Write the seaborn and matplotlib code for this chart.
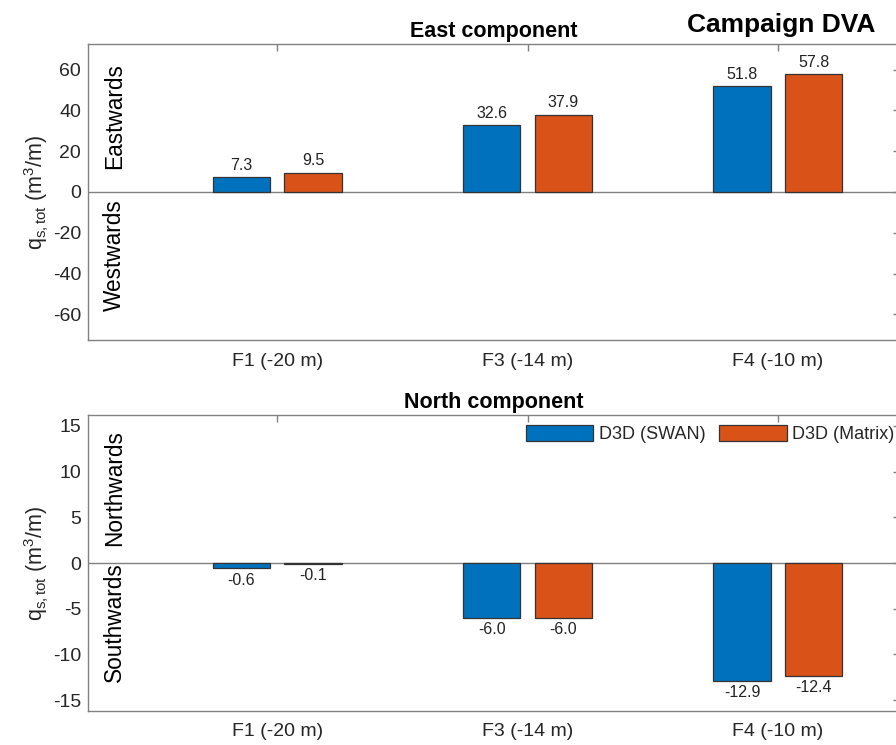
import matplotlib
matplotlib.use("Agg")
import matplotlib.pyplot as plt
import matplotlib.transforms as mtransforms
import seaborn as sns
import pandas as pd

# ---- data ----
categories = ["F1 (-20 m)", "F3 (-14 m)", "F4 (-10 m)"]
series = ["D3D (SWAN)", "D3D (Matrix)"]
east_swan = [7.3, 32.6, 51.8]
east_matrix = [9.5, 37.9, 57.8]
north_swan = [-0.6, -6.0, -12.9]
north_matrix = [-0.1, -6.0, -12.4]
east_yticks = [-60, -40, -20, 0, 20, 40, 60]
north_yticks = [-15, -10, -5, 0, 5, 10, 15]
colors = ["#0072BD", "#D95319"]

sns.set_theme(style="white")
plt.rcParams["font.family"] = ["Liberation Sans", "DejaVu Sans"]
plt.rcParams["mathtext.fontset"] = "custom"
plt.rcParams["mathtext.rm"] = "Liberation Sans"
plt.rcParams["mathtext.it"] = "Liberation Sans"
plt.rcParams["axes.unicode_minus"] = False

def make_df(a, b):
    rows = []
    for c, v in zip(categories, a):
        rows.append({"cat": c, "series": series[0], "val": v})
    for c, v in zip(categories, b):
        rows.append({"cat": c, "series": series[1], "val": v})
    return pd.DataFrame(rows)

fig = plt.figure(figsize=(8.96, 7.45), dpi=100)
W, H = 896, 745
ax1 = fig.add_axes([88 / W, (H - 340) / H, 812 / W, 296 / H])
ax2 = fig.add_axes([88 / W, (H - 711) / H, 812 / W, 296 / H])

SPINE = "#808080"
TXT = "#262626"

def draw(ax, df, ylim, yticks, title, up, down, up_y, down_y, legend):
    sns.barplot(data=df, x="cat", y="val", hue="series", order=categories,
                hue_order=series, palette=colors, width=0.573, gap=0.2,
                edgecolor="#333333", linewidth=0.9, saturation=1,
                legend=legend, ax=ax, errorbar=None)
    ax.axhline(0, color=SPINE, lw=1.0, zorder=0.5)
    for cont in ax.containers:
        ax.bar_label(cont, fmt="%.1f", padding=3, fontsize=11.5, color="#222222")
    ax.set_xlim(-0.756, 2.488)
    ax.set_ylim(*ylim)
    ax.set_yticks(yticks)
    ax.set_xlabel("")
    ax.set_ylabel(r"$\mathrm{q_{s,tot}}$ (m$^{\mathrm{3}}$/m)", fontsize=15.5,
                  color=TXT, labelpad=1)
    ax.set_title(title, fontsize=15.5, fontweight="bold", pad=5, color="black")
    for s in ax.spines.values():
        s.set_color(SPINE)
        s.set_linewidth(1.0)
        s.set_visible(True)
    ax.tick_params(direction="in", length=5, width=1.0, top=True, right=True,
                   color=SPINE, labelcolor=TXT, labelsize=14)
    ax.tick_params(axis="x", pad=9)
    ax.tick_params(axis="y", pad=5)
    tr = mtransforms.blended_transform_factory(ax.transAxes, ax.transData)
    ax.text(0.033, up_y, up, rotation=90, ha="center", va="center",
            fontsize=16.3, color="black", transform=tr)
    ax.text(0.033, down_y, down, rotation=90, ha="center", va="center",
            fontsize=16.3, color="black", transform=tr)

draw(ax1, make_df(east_swan, east_matrix), (-72.5, 72.5), east_yticks,
     "East component", "Eastwards", "Westwards", 37, -31, False)
draw(ax2, make_df(north_swan, north_matrix), (-16.2, 16.2), north_yticks,
     "North component", "Northwards", "Southwards", 8.25, -6.5, True)

handles, labels = ax2.get_legend_handles_labels()
if ax2.get_legend() is not None:
    ax2.get_legend().remove()
leg = ax2.legend(handles, labels, ncol=2, loc="upper left",
                 bbox_to_anchor=(0.539, 0.966), frameon=False, fontsize=13,
                 handlelength=3.75, handleheight=0.95, handletextpad=0.3,
                 columnspacing=0.75, borderpad=0, borderaxespad=0)
for t in leg.get_texts():
    t.set_color(TXT)

fig.text(781 / W, (H - 32) / H, "Campaign DVA", ha="center", va="baseline",
         fontsize=19, fontweight="bold", color="black")

fig.savefig("out.png", dpi=100)
